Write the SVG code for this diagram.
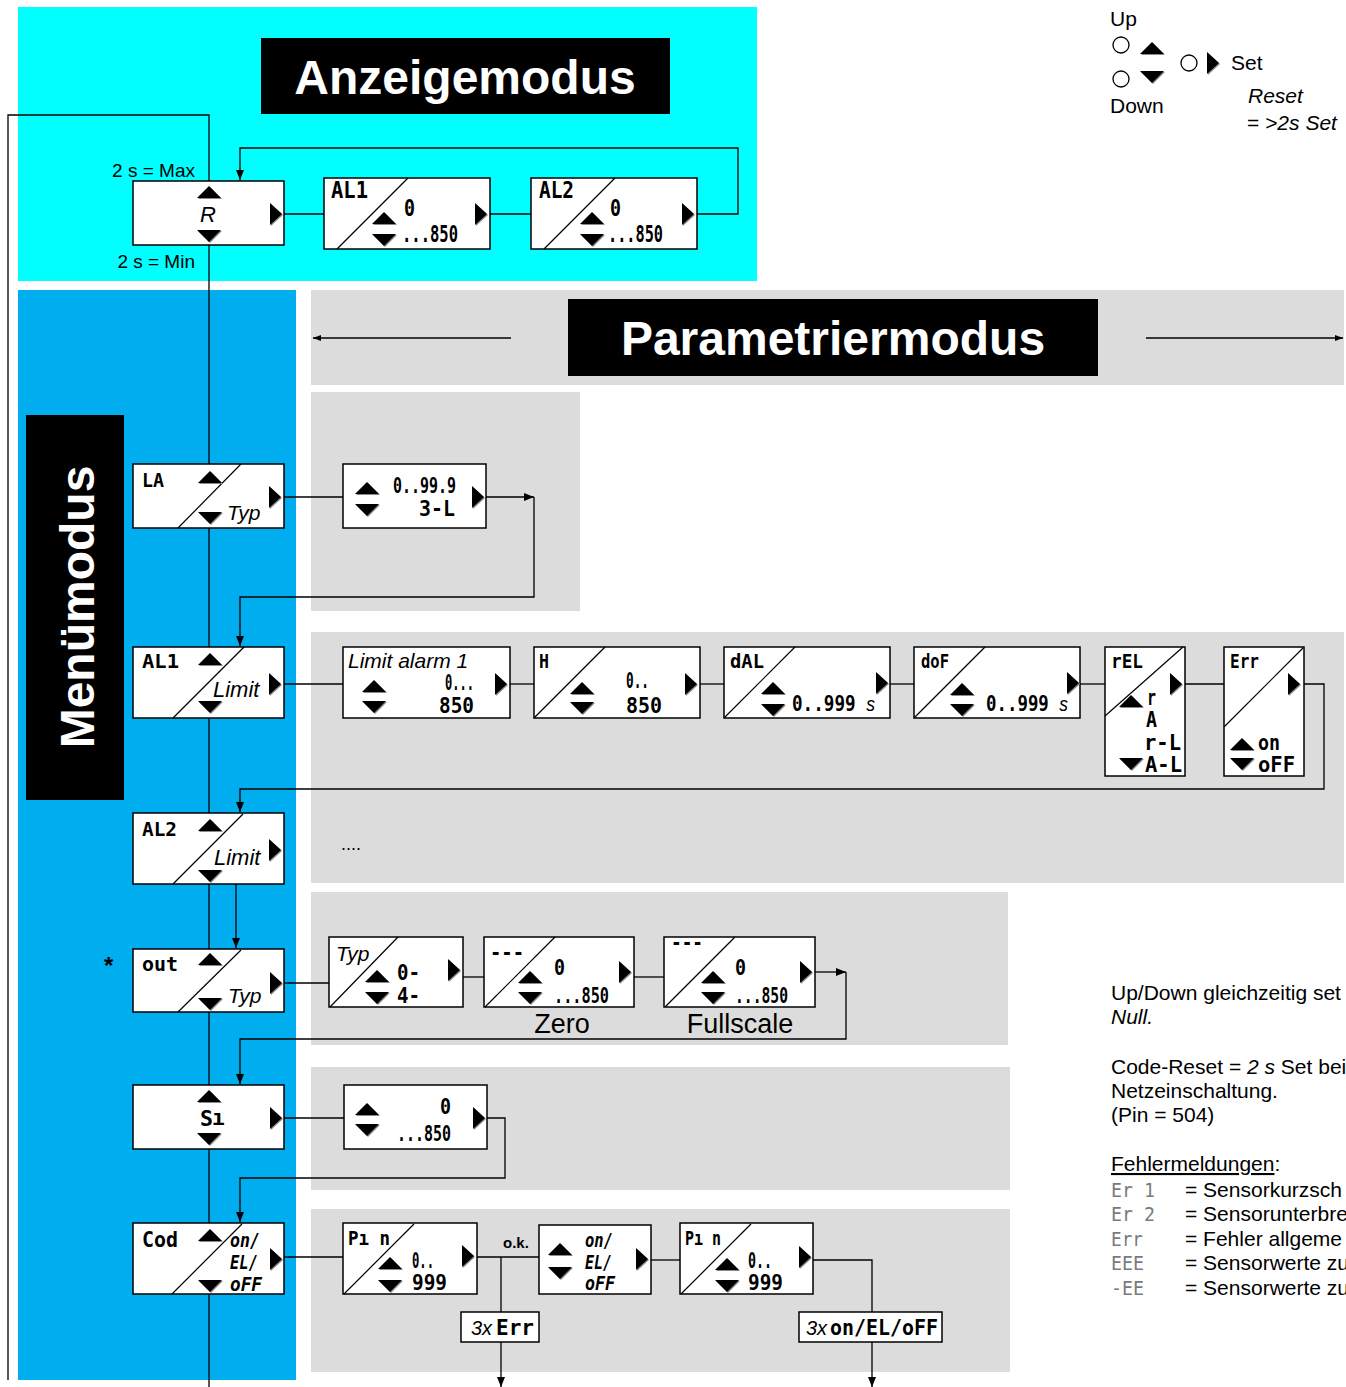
<svg xmlns="http://www.w3.org/2000/svg" width="1346" height="1387" viewBox="0 0 1346 1387">
<defs>
<style>
.bx{fill:#fff;stroke:#000;stroke-width:1.5}
.dg{stroke:#000;stroke-width:1.2}
.ln{fill:none;stroke:#000;stroke-width:1.3}
.sg{font-family:"DejaVu Sans Mono","Liberation Mono",monospace;font-size:21px;font-weight:bold;fill:#000}
.sl{font-size:19px}
.sb{font-size:23px}
.t{font-family:"Liberation Sans",Arial,sans-serif;fill:#000}
.it{font-style:italic}
.gr{fill:#7a7a7a;font-weight:normal}
</style>
<marker id="ah" markerWidth="10" markerHeight="8" refX="10" refY="4" orient="auto" markerUnits="userSpaceOnUse"><path d="M0,0 L10,4 L0,8 z" fill="#000"/></marker>
<marker id="ah2" markerWidth="8" markerHeight="6" refX="8" refY="3" orient="auto" markerUnits="userSpaceOnUse"><path d="M0,0 L8,3 L0,6 z" fill="#000"/></marker>
<g id="up"><polygon points="-11,7 1,-5 13,7" fill="#8a8a8a"/><polygon points="-12,6 0,-6 12,6" fill="#000"/></g>
<g id="dn"><polygon points="-11,-5 1,7 13,-5" fill="#8a8a8a"/><polygon points="-12,-6 0,6 12,-6" fill="#000"/></g>
<g id="rt"><polygon points="-5,-10 7,1 -5,12" fill="#8a8a8a"/><polygon points="-6,-11 6,0 -6,11" fill="#000"/></g>
</defs>

<!-- backgrounds -->
<rect x="18" y="7" width="739" height="274" fill="#00FFFF"/>
<rect x="18" y="290" width="278" height="1090" fill="#00AEEF"/>
<rect x="311" y="290" width="1033" height="95" fill="#DCDCDC"/>
<rect x="311" y="392" width="269" height="219" fill="#DCDCDC"/>
<rect x="311" y="632" width="1033" height="251" fill="#DCDCDC"/>
<rect x="311" y="892" width="697" height="153" fill="#DCDCDC"/>
<rect x="311" y="1067" width="699" height="123" fill="#DCDCDC"/>
<rect x="311" y="1209" width="699" height="163" fill="#DCDCDC"/>

<!-- titles -->
<g id="title-anzeige"><rect x="261" y="38" width="409" height="76" fill="#000"/><text class="t" x="465" y="94" font-size="48" font-weight="bold" text-anchor="middle" style="fill:#fff">Anzeigemodus</text></g>
<g id="title-param"><rect x="568" y="299" width="530" height="77" fill="#000"/><text class="t" x="833" y="355" font-size="48" font-weight="bold" text-anchor="middle" style="fill:#fff">Parametriermodus</text></g>
<g id="title-menu"><rect x="26" y="415" width="98" height="385" fill="#000"/><text class="t" transform="translate(94,607) rotate(-90)" font-size="48" font-weight="bold" text-anchor="middle" style="fill:#fff">Menümodus</text></g>

<!-- connectors -->
<g id="connectors">
<path class="ln" d="M8,1380 V115 H209 V1387"/>
<line class="ln" x1="511" y1="338" x2="313" y2="338" stroke-width="1" marker-end="url(#ah2)"/>
<line class="ln" x1="1146" y1="338" x2="1343" y2="338" stroke-width="1" marker-end="url(#ah2)"/>
<path class="ln" d="M697,214 H738 V148 H240 V180" marker-end="url(#ah)"/>
<line class="ln" x1="284" y1="214" x2="324" y2="214"/>
<line class="ln" x1="490" y1="214" x2="531" y2="214"/>
<line class="ln" x1="284" y1="497" x2="343" y2="497"/>
<line class="ln" x1="486" y1="497" x2="534" y2="497" marker-end="url(#ah)"/>
<path class="ln" d="M534,497 V597 H240 V646" marker-end="url(#ah)"/>
<line class="ln" x1="284" y1="684" x2="343" y2="684"/>
<line class="ln" x1="510" y1="684" x2="534" y2="684"/>
<line class="ln" x1="700" y1="684" x2="724" y2="684"/>
<line class="ln" x1="890" y1="684" x2="914" y2="684"/>
<line class="ln" x1="1080" y1="684" x2="1105" y2="684"/>
<line class="ln" x1="1185" y1="684" x2="1224" y2="684"/>
<path class="ln" d="M1304,684 H1324 V789 H240 V812" marker-end="url(#ah)"/>
<line class="ln" x1="236" y1="884" x2="236" y2="948" marker-end="url(#ah)"/>
<line class="ln" x1="284" y1="983" x2="329" y2="983"/>
<line class="ln" x1="463" y1="977" x2="484" y2="977"/>
<line class="ln" x1="634" y1="977" x2="664" y2="977"/>
<line class="ln" x1="815" y1="972" x2="846" y2="972" marker-end="url(#ah)"/>
<path class="ln" d="M846,972 V1039 H240 V1084" marker-end="url(#ah)"/>
<line class="ln" x1="284" y1="1118" x2="344" y2="1118"/>
<path class="ln" d="M487,1118 H505 V1178 H240 V1222" marker-end="url(#ah)"/>
<line class="ln" x1="284" y1="1257" x2="343" y2="1257"/>
<line class="ln" x1="477" y1="1257" x2="539" y2="1257"/>
<line class="ln" x1="501" y1="1257" x2="501" y2="1312"/>
<line class="ln" x1="501" y1="1342" x2="501" y2="1387" marker-end="url(#ah)"/>
<line class="ln" x1="651" y1="1260" x2="680" y2="1260"/>
<path class="ln" d="M813,1260 H872 V1312"/>
<line class="ln" x1="872" y1="1342" x2="872" y2="1387" marker-end="url(#ah)"/>
</g>

<!-- Anzeigemodus -->
<text class="t" x="195" y="177" font-size="19" text-anchor="end">2 s = Max</text>
<text class="t" x="195" y="268" font-size="19" text-anchor="end">2 s = Min</text>
<g id="n-R"><rect class="bx" x="133" y="181" width="151" height="64"/><use href="#up" x="209" y="192"/><text class="t it" x="208" y="222" font-size="22" text-anchor="middle">R</text><use href="#dn" x="209" y="236"/><use href="#rt" x="276" y="214"/></g>
<g id="n-A-AL1"><rect class="bx" x="324" y="178" width="166" height="71"/><line class="dg" x1="337" y1="249" x2="408" y2="178"/><text class="sg sb" x="331" y="198" textLength="37" lengthAdjust="spacingAndGlyphs">AL1</text><use href="#up" x="384" y="218"/><use href="#dn" x="384" y="240"/><text class="sg sb" x="404" y="216" textLength="11" lengthAdjust="spacingAndGlyphs">0</text><text class="sg sb" x="402" y="242" textLength="56" lengthAdjust="spacingAndGlyphs">...850</text><use href="#rt" x="481" y="214"/></g>
<g id="n-A-AL2"><rect class="bx" x="531" y="178" width="166" height="71"/><line class="dg" x1="544" y1="249" x2="615" y2="178"/><text class="sg sb" x="539" y="198" textLength="35" lengthAdjust="spacingAndGlyphs">AL2</text><use href="#up" x="592" y="218"/><use href="#dn" x="592" y="240"/><text class="sg sb" x="610" y="216" textLength="11" lengthAdjust="spacingAndGlyphs">0</text><text class="sg sb" x="608" y="242" textLength="55" lengthAdjust="spacingAndGlyphs">...850</text><use href="#rt" x="688" y="214"/></g>

<!-- legend -->
<g id="legend">
<text class="t" x="1110" y="26" font-size="21">Up</text>
<circle cx="1121" cy="45" r="8" fill="#fff" stroke="#000" stroke-width="1.3"/>
<use href="#up" x="1152" y="48"/>
<circle cx="1121" cy="79" r="8" fill="#fff" stroke="#000" stroke-width="1.3"/>
<use href="#dn" x="1152" y="77"/>
<circle cx="1189" cy="63" r="8" fill="#fff" stroke="#000" stroke-width="1.3"/>
<use href="#rt" x="1213" y="63"/>
<text class="t" x="1231" y="70" font-size="21">Set</text>
<text class="t" x="1110" y="113" font-size="21">Down</text>
<text class="t it" x="1248" y="103" font-size="21">Reset</text>
<text class="t" x="1247" y="130" font-size="21">= <tspan font-style="italic">&gt;2s Set</tspan></text>
</g>

<!-- LA -->
<g id="n-LA"><rect class="bx" x="133" y="464" width="151" height="64"/><line class="dg" x1="178" y1="528" x2="241" y2="464"/><text class="sg sl" x="142" y="487" textLength="22" lengthAdjust="spacingAndGlyphs">LA</text><use href="#up" x="210" y="477"/><use href="#dn" x="210" y="518"/><text class="t it" x="227" y="520" font-size="21">Typ</text><use href="#rt" x="275" y="497"/></g>
<g id="n-LA-val"><rect class="bx" x="343" y="464" width="143" height="64"/><use href="#up" x="367" y="488"/><use href="#dn" x="367" y="510"/><text class="sg" x="393" y="493" textLength="63" lengthAdjust="spacingAndGlyphs">0..99.9</text><text class="sg" x="419" y="516" textLength="36" lengthAdjust="spacingAndGlyphs">3-L</text><use href="#rt" x="478" y="497"/></g>

<!-- AL1 -->
<g id="n-AL1"><rect class="bx" x="133" y="647" width="151" height="71"/><line class="dg" x1="173" y1="718" x2="244" y2="647"/><text class="sg sl" x="142" y="668" textLength="37" lengthAdjust="spacingAndGlyphs">AL1</text><use href="#up" x="210" y="659"/><use href="#dn" x="210" y="707"/><text class="t it" x="213" y="697" font-size="22">Limit</text><use href="#rt" x="275" y="684"/></g>
<g id="n-AL1-limit"><rect class="bx" x="343" y="647" width="167" height="71"/><text class="t it" x="348" y="668" font-size="21">Limit alarm 1</text><use href="#up" x="374" y="686"/><use href="#dn" x="374" y="707"/><text class="sg" x="445" y="690" font-size="19" textLength="29" lengthAdjust="spacingAndGlyphs">0...</text><text class="sg" x="439" y="713" textLength="35" lengthAdjust="spacingAndGlyphs">850</text><use href="#rt" x="501" y="684"/></g>
<g id="n-H"><rect class="bx" x="534" y="647" width="166" height="71"/><line class="dg" x1="534" y1="718" x2="605" y2="647"/><text class="sg sl" x="539" y="668" textLength="10" lengthAdjust="spacingAndGlyphs">H</text><use href="#up" x="582" y="688"/><use href="#dn" x="582" y="708"/><text class="sg" x="626" y="688" textLength="23" lengthAdjust="spacingAndGlyphs">0..</text><text class="sg" x="626" y="713" textLength="36" lengthAdjust="spacingAndGlyphs">850</text><use href="#rt" x="691" y="684"/></g>
<g id="n-dAL"><rect class="bx" x="724" y="647" width="166" height="71"/><line class="dg" x1="724" y1="718" x2="795" y2="647"/><text class="sg sl" x="730" y="668" textLength="34" lengthAdjust="spacingAndGlyphs">dAL</text><use href="#up" x="773" y="688"/><use href="#dn" x="773" y="710"/><text class="sg" x="792" y="711" font-size="19" textLength="83" lengthAdjust="spacingAndGlyphs">0..999 <tspan font-family="Liberation Sans, Arial, sans-serif" font-style="italic" font-weight="normal" font-size="21">s</tspan></text><use href="#rt" x="882" y="683"/></g>
<g id="n-doF"><rect class="bx" x="914" y="647" width="166" height="71"/><line class="dg" x1="914" y1="718" x2="985" y2="647"/><text class="sg sl" x="921" y="668" textLength="28" lengthAdjust="spacingAndGlyphs">doF</text><use href="#up" x="962" y="689"/><use href="#dn" x="962" y="710"/><text class="sg" x="986" y="711" font-size="19" textLength="82" lengthAdjust="spacingAndGlyphs">0..999 <tspan font-family="Liberation Sans, Arial, sans-serif" font-style="italic" font-weight="normal" font-size="21">s</tspan></text><use href="#rt" x="1073" y="683"/></g>
<g id="n-rEL"><rect class="bx" x="1105" y="647" width="80" height="129"/><line class="dg" x1="1105" y1="716" x2="1183" y2="647"/><text class="sg sl" x="1111" y="668" textLength="32" lengthAdjust="spacingAndGlyphs">rEL</text><use href="#up" x="1131" y="701"/><text class="sg" x="1147" y="705" font-size="14" textLength="9" lengthAdjust="spacingAndGlyphs">r</text><text class="sg" x="1146" y="727" font-size="19" textLength="11" lengthAdjust="spacingAndGlyphs">A</text><text class="sg" x="1144" y="750" font-size="17" textLength="37" lengthAdjust="spacingAndGlyphs">r-L</text><use href="#dn" x="1131" y="764"/><text class="sg" x="1145" y="772" font-size="18" textLength="37" lengthAdjust="spacingAndGlyphs">A-L</text><use href="#rt" x="1176" y="684"/></g>
<g id="n-Err"><rect class="bx" x="1224" y="647" width="80" height="129"/><line class="dg" x1="1224" y1="727" x2="1303" y2="648"/><text class="sg sl" x="1230" y="668" textLength="29" lengthAdjust="spacingAndGlyphs">Err</text><use href="#rt" x="1294" y="684"/><use href="#up" x="1242" y="744"/><text class="sg" x="1258" y="750" font-size="19" textLength="22" lengthAdjust="spacingAndGlyphs">on</text><use href="#dn" x="1242" y="764"/><text class="sg" x="1258" y="772" font-size="19" textLength="37" lengthAdjust="spacingAndGlyphs">oFF</text></g>

<!-- AL2 -->
<g id="n-AL2"><rect class="bx" x="133" y="813" width="151" height="71"/><line class="dg" x1="173" y1="884" x2="243" y2="814"/><text class="sg sl" x="142" y="836" textLength="35" lengthAdjust="spacingAndGlyphs">AL2</text><use href="#up" x="210" y="825"/><use href="#dn" x="210" y="876"/><text class="t it" x="214" y="865" font-size="22">Limit</text><use href="#rt" x="275" y="850"/></g>
<text class="t" x="341" y="850" font-size="18">....</text>

<!-- out -->
<text class="t" x="104" y="974" font-size="24" font-weight="bold">*</text>
<g id="n-out"><rect class="bx" x="133" y="949" width="151" height="63"/><line class="dg" x1="178" y1="1012" x2="241" y2="950"/><text class="sg sl" x="142" y="971" textLength="36" lengthAdjust="spacingAndGlyphs">out</text><use href="#up" x="210" y="959"/><use href="#dn" x="210" y="1004"/><text class="t it" x="228" y="1003" font-size="21">Typ</text><use href="#rt" x="276" y="983"/></g>
<g id="n-out-typ"><rect class="bx" x="329" y="937" width="134" height="70"/><line class="dg" x1="330" y1="1007" x2="398" y2="937"/><text class="t it" x="336" y="961" font-size="21">Typ</text><use href="#up" x="377" y="976"/><use href="#dn" x="377" y="998"/><text class="sg" x="397" y="980" textLength="23" lengthAdjust="spacingAndGlyphs">0-</text><text class="sg" x="397" y="1003" textLength="23" lengthAdjust="spacingAndGlyphs">4-</text><use href="#rt" x="454" y="970"/></g>
<g id="n-zero"><rect class="bx" x="484" y="937" width="150" height="70"/><line class="dg" x1="485" y1="1007" x2="555" y2="937"/><text class="sg" x="490" y="960" textLength="34" lengthAdjust="spacingAndGlyphs">---</text><use href="#up" x="530" y="977"/><use href="#dn" x="530" y="998"/><text class="sg" x="554" y="975" textLength="11" lengthAdjust="spacingAndGlyphs">0</text><text class="sg" x="554" y="1003" textLength="55" lengthAdjust="spacingAndGlyphs">...850</text><use href="#rt" x="625" y="972"/></g>
<text class="t" x="562" y="1033" font-size="27" text-anchor="middle">Zero</text>
<g id="n-full"><rect class="bx" x="664" y="937" width="151" height="70"/><line class="dg" x1="665" y1="1007" x2="735" y2="937"/><text class="sg" x="671" y="950" textLength="32" lengthAdjust="spacingAndGlyphs">---</text><use href="#up" x="713" y="977"/><use href="#dn" x="713" y="998"/><text class="sg" x="735" y="975" textLength="11" lengthAdjust="spacingAndGlyphs">0</text><text class="sg" x="735" y="1003" textLength="53" lengthAdjust="spacingAndGlyphs">...850</text><use href="#rt" x="806" y="972"/></g>
<text class="t" x="740" y="1033" font-size="27" text-anchor="middle">Fullscale</text>

<!-- S -->
<g id="n-S"><rect class="bx" x="133" y="1085" width="151" height="64"/><use href="#up" x="209" y="1096"/><text class="sg" x="200" y="1126" font-size="22" textLength="13" lengthAdjust="spacingAndGlyphs">S</text><text class="sg" x="212" y="1125" font-size="13">ı</text><use href="#dn" x="209" y="1139"/><use href="#rt" x="276" y="1118"/></g>
<g id="n-S-val"><rect class="bx" x="344" y="1085" width="143" height="64"/><use href="#up" x="367" y="1109"/><use href="#dn" x="367" y="1130"/><text class="sg" x="440" y="1114" textLength="11" lengthAdjust="spacingAndGlyphs">0</text><text class="sg" x="397" y="1141" textLength="54" lengthAdjust="spacingAndGlyphs">...850</text><use href="#rt" x="479" y="1118"/></g>

<!-- Cod -->
<g id="n-Cod"><rect class="bx" x="133" y="1223" width="151" height="71"/><line class="dg" x1="172" y1="1294" x2="242" y2="1224"/><text class="sg" x="142" y="1247" textLength="36" lengthAdjust="spacingAndGlyphs">Cod</text><use href="#up" x="210" y="1235"/><use href="#dn" x="210" y="1286"/><g font-style="italic"><text class="sg sl" x="230" y="1247" textLength="30" lengthAdjust="spacingAndGlyphs">on/</text><text class="sg sl" x="230" y="1269" textLength="28" lengthAdjust="spacingAndGlyphs">EL/</text><text class="sg sl" x="230" y="1291" textLength="32" lengthAdjust="spacingAndGlyphs">oFF</text></g><use href="#rt" x="276" y="1259"/></g>
<g id="n-Pin1"><rect class="bx" x="343" y="1223" width="134" height="71"/><line class="dg" x1="344" y1="1294" x2="414" y2="1224"/><text class="sg sl" x="348" y="1245" textLength="42" lengthAdjust="spacingAndGlyphs">Pı n</text><use href="#up" x="390" y="1263"/><use href="#dn" x="390" y="1286"/><text class="sg" x="412" y="1268" textLength="22" lengthAdjust="spacingAndGlyphs">0..</text><text class="sg" x="412" y="1290" textLength="35" lengthAdjust="spacingAndGlyphs">999</text><use href="#rt" x="468" y="1256"/></g>
<text class="t" x="503" y="1248" font-size="15" font-weight="bold">o.k.</text>
<g id="n-3xErr"><rect class="bx" x="461" y="1312" width="78" height="30"/><text class="t it" x="471" y="1335" font-size="20">3x</text><text class="sg" x="496" y="1335" textLength="38" lengthAdjust="spacingAndGlyphs">Err</text></g>
<g id="n-onELoff"><rect class="bx" x="539" y="1225" width="112" height="69"/><use href="#up" x="560" y="1249"/><use href="#dn" x="560" y="1273"/><g font-style="italic"><text class="sg sl" x="585" y="1247" textLength="28" lengthAdjust="spacingAndGlyphs">on/</text><text class="sg sl" x="585" y="1269" textLength="27" lengthAdjust="spacingAndGlyphs">EL/</text><text class="sg sl" x="585" y="1290" textLength="30" lengthAdjust="spacingAndGlyphs">oFF</text></g><use href="#rt" x="642" y="1259"/></g>
<g id="n-Pin2"><rect class="bx" x="680" y="1223" width="133" height="71"/><line class="dg" x1="681" y1="1294" x2="751" y2="1224"/><text class="sg sl" x="685" y="1245" textLength="36" lengthAdjust="spacingAndGlyphs">Pı n</text><use href="#up" x="727" y="1264"/><use href="#dn" x="727" y="1286"/><text class="sg" x="748" y="1268" textLength="24" lengthAdjust="spacingAndGlyphs">0..</text><text class="sg" x="748" y="1290" textLength="35" lengthAdjust="spacingAndGlyphs">999</text><use href="#rt" x="805" y="1257"/></g>
<g id="n-3xon"><rect class="bx" x="799" y="1312" width="143" height="30"/><text class="t it" x="806" y="1335" font-size="20">3x</text><text class="sg" x="830" y="1335" textLength="108" lengthAdjust="spacingAndGlyphs">on/EL/oFF</text></g>

<!-- notes -->
<g id="notes">
<text class="t" x="1111" y="1000" font-size="21">Up/Down gleichzeitig set</text>
<text class="t it" x="1111" y="1024" font-size="21">Null.</text>
<text class="t" x="1111" y="1074" font-size="21">Code-Reset = <tspan font-style="italic">2 s</tspan> Set bei</text>
<text class="t" x="1111" y="1098" font-size="21">Netzeinschaltung.</text>
<text class="t" x="1111" y="1122" font-size="21">(Pin = 504)</text>
<text class="t" x="1111" y="1171" font-size="21"><tspan text-decoration="underline">Fehlermeldungen</tspan>:</text>
<text class="sg sl gr" x="1111" y="1197" textLength="44" lengthAdjust="spacingAndGlyphs">Er 1</text>
<text class="sg sl gr" x="1111" y="1221" textLength="44" lengthAdjust="spacingAndGlyphs">Er 2</text>
<text class="sg sl gr" x="1111" y="1246" textLength="32" lengthAdjust="spacingAndGlyphs">Err</text>
<text class="sg sl gr" x="1111" y="1270" textLength="33" lengthAdjust="spacingAndGlyphs">EEE</text>
<text class="sg sl gr" x="1111" y="1295" textLength="33" lengthAdjust="spacingAndGlyphs">-EE</text>
<text class="t" x="1185" y="1197" font-size="21">= Sensorkurzsch</text>
<text class="t" x="1185" y="1221" font-size="21">= Sensorunterbre</text>
<text class="t" x="1185" y="1246" font-size="21">= Fehler allgeme</text>
<text class="t" x="1185" y="1270" font-size="21">= Sensorwerte zu</text>
<text class="t" x="1185" y="1295" font-size="21">= Sensorwerte zu</text>
</g>
</svg>
